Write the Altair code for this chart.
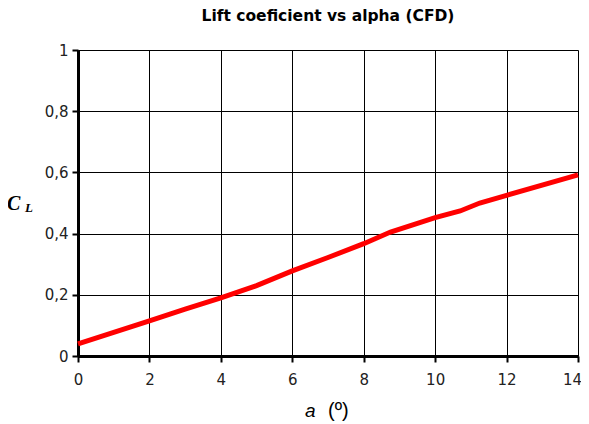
import altair as alt
import pandas as pd

alpha = [0, 1, 2, 3, 4, 5, 6, 7, 8, 8.75, 10, 10.7, 11.25, 12, 14]
cl = [0.04, 0.077, 0.115, 0.153, 0.19, 0.23, 0.278, 0.322, 0.367, 0.405, 0.452, 0.474, 0.5, 0.525, 0.592]
x_ticks = [0, 2, 4, 6, 8, 10, 12, 14]
y_ticks = [0, 0.2, 0.4, 0.6, 0.8, 1]

df = pd.DataFrame({"alpha": alpha, "cl": cl})
one = pd.DataFrame({"k": [0]})

LABEL_FONT = "DejaVu Sans"

x = alt.X("alpha:Q", scale=alt.Scale(domain=[0, 14], nice=False, zero=False),
          axis=alt.Axis(values=x_ticks, title=None, grid=True, labelFlush=False,
                        labelOffset={"condition": {"test": "datum.value == 14", "value": -6},
                                     "value": 0},
                        gridColor="black", gridWidth=1, gridOpacity=1,
                        domainColor="black", domainWidth=3, tickColor="black",
                        tickWidth=2, tickSize=6, labelFont=LABEL_FONT, labelFontSize=15,
                        labelColor="#222", labelPadding=10))
y = alt.Y("cl:Q", scale=alt.Scale(domain=[0, 1], nice=False),
          axis=alt.Axis(values=y_ticks, title=None, grid=True, labelFlush=False,
                        gridColor="black", gridWidth=1, gridOpacity=1,
                        domainColor="black", domainWidth=3, tickColor="black",
                        tickWidth=2, tickSize=6, labelFont=LABEL_FONT, labelFontSize=15,
                        labelColor="#222", labelPadding=4,
                        labelExpr="replace('' + datum.value, '.', ',')"))

line = alt.Chart(df).mark_line(color="#FF0000", strokeWidth=5).encode(x=x, y=y)

base = alt.Chart(one)
cl_c = base.mark_text(text="C", font="Liberation Serif", fontStyle="italic",
                      fontWeight="bold", fontSize=20, align="left",
                      baseline="alphabetic").encode(x=alt.value(-71), y=alt.value(160))
cl_l = base.mark_text(text="L", font="Liberation Serif", fontStyle="italic",
                      fontWeight="bold", fontSize=13, align="left",
                      baseline="alphabetic").encode(x=alt.value(-53), y=alt.value(162))
xa = base.mark_text(text="a", font="Liberation Sans", fontStyle="italic",
                    fontSize=19, align="left", baseline="alphabetic").encode(
    x=alt.value(227), y=alt.value(367))
xb = base.mark_text(text="(º)", font="Liberation Sans",
                    fontSize=20, align="left", baseline="alphabetic").encode(
    x=alt.value(250), y=alt.value(367))

chart = alt.layer(line, cl_c, cl_l, xa, xb).properties(
    width=500, height=306,
    title=alt.TitleParams("Lift coeficient vs alpha (CFD)", font=LABEL_FONT, fontSize=15.5,
                          fontWeight="bold", color="black", anchor="middle", offset=19),
    autosize=alt.AutoSizeParams(type="none"),
    padding={"left": 70, "top": 42, "right": 3, "bottom": 66},
).configure_view(stroke=None).configure(background="white")

chart.save("out.html", embed_options={"renderer": "svg", "actions": False})
